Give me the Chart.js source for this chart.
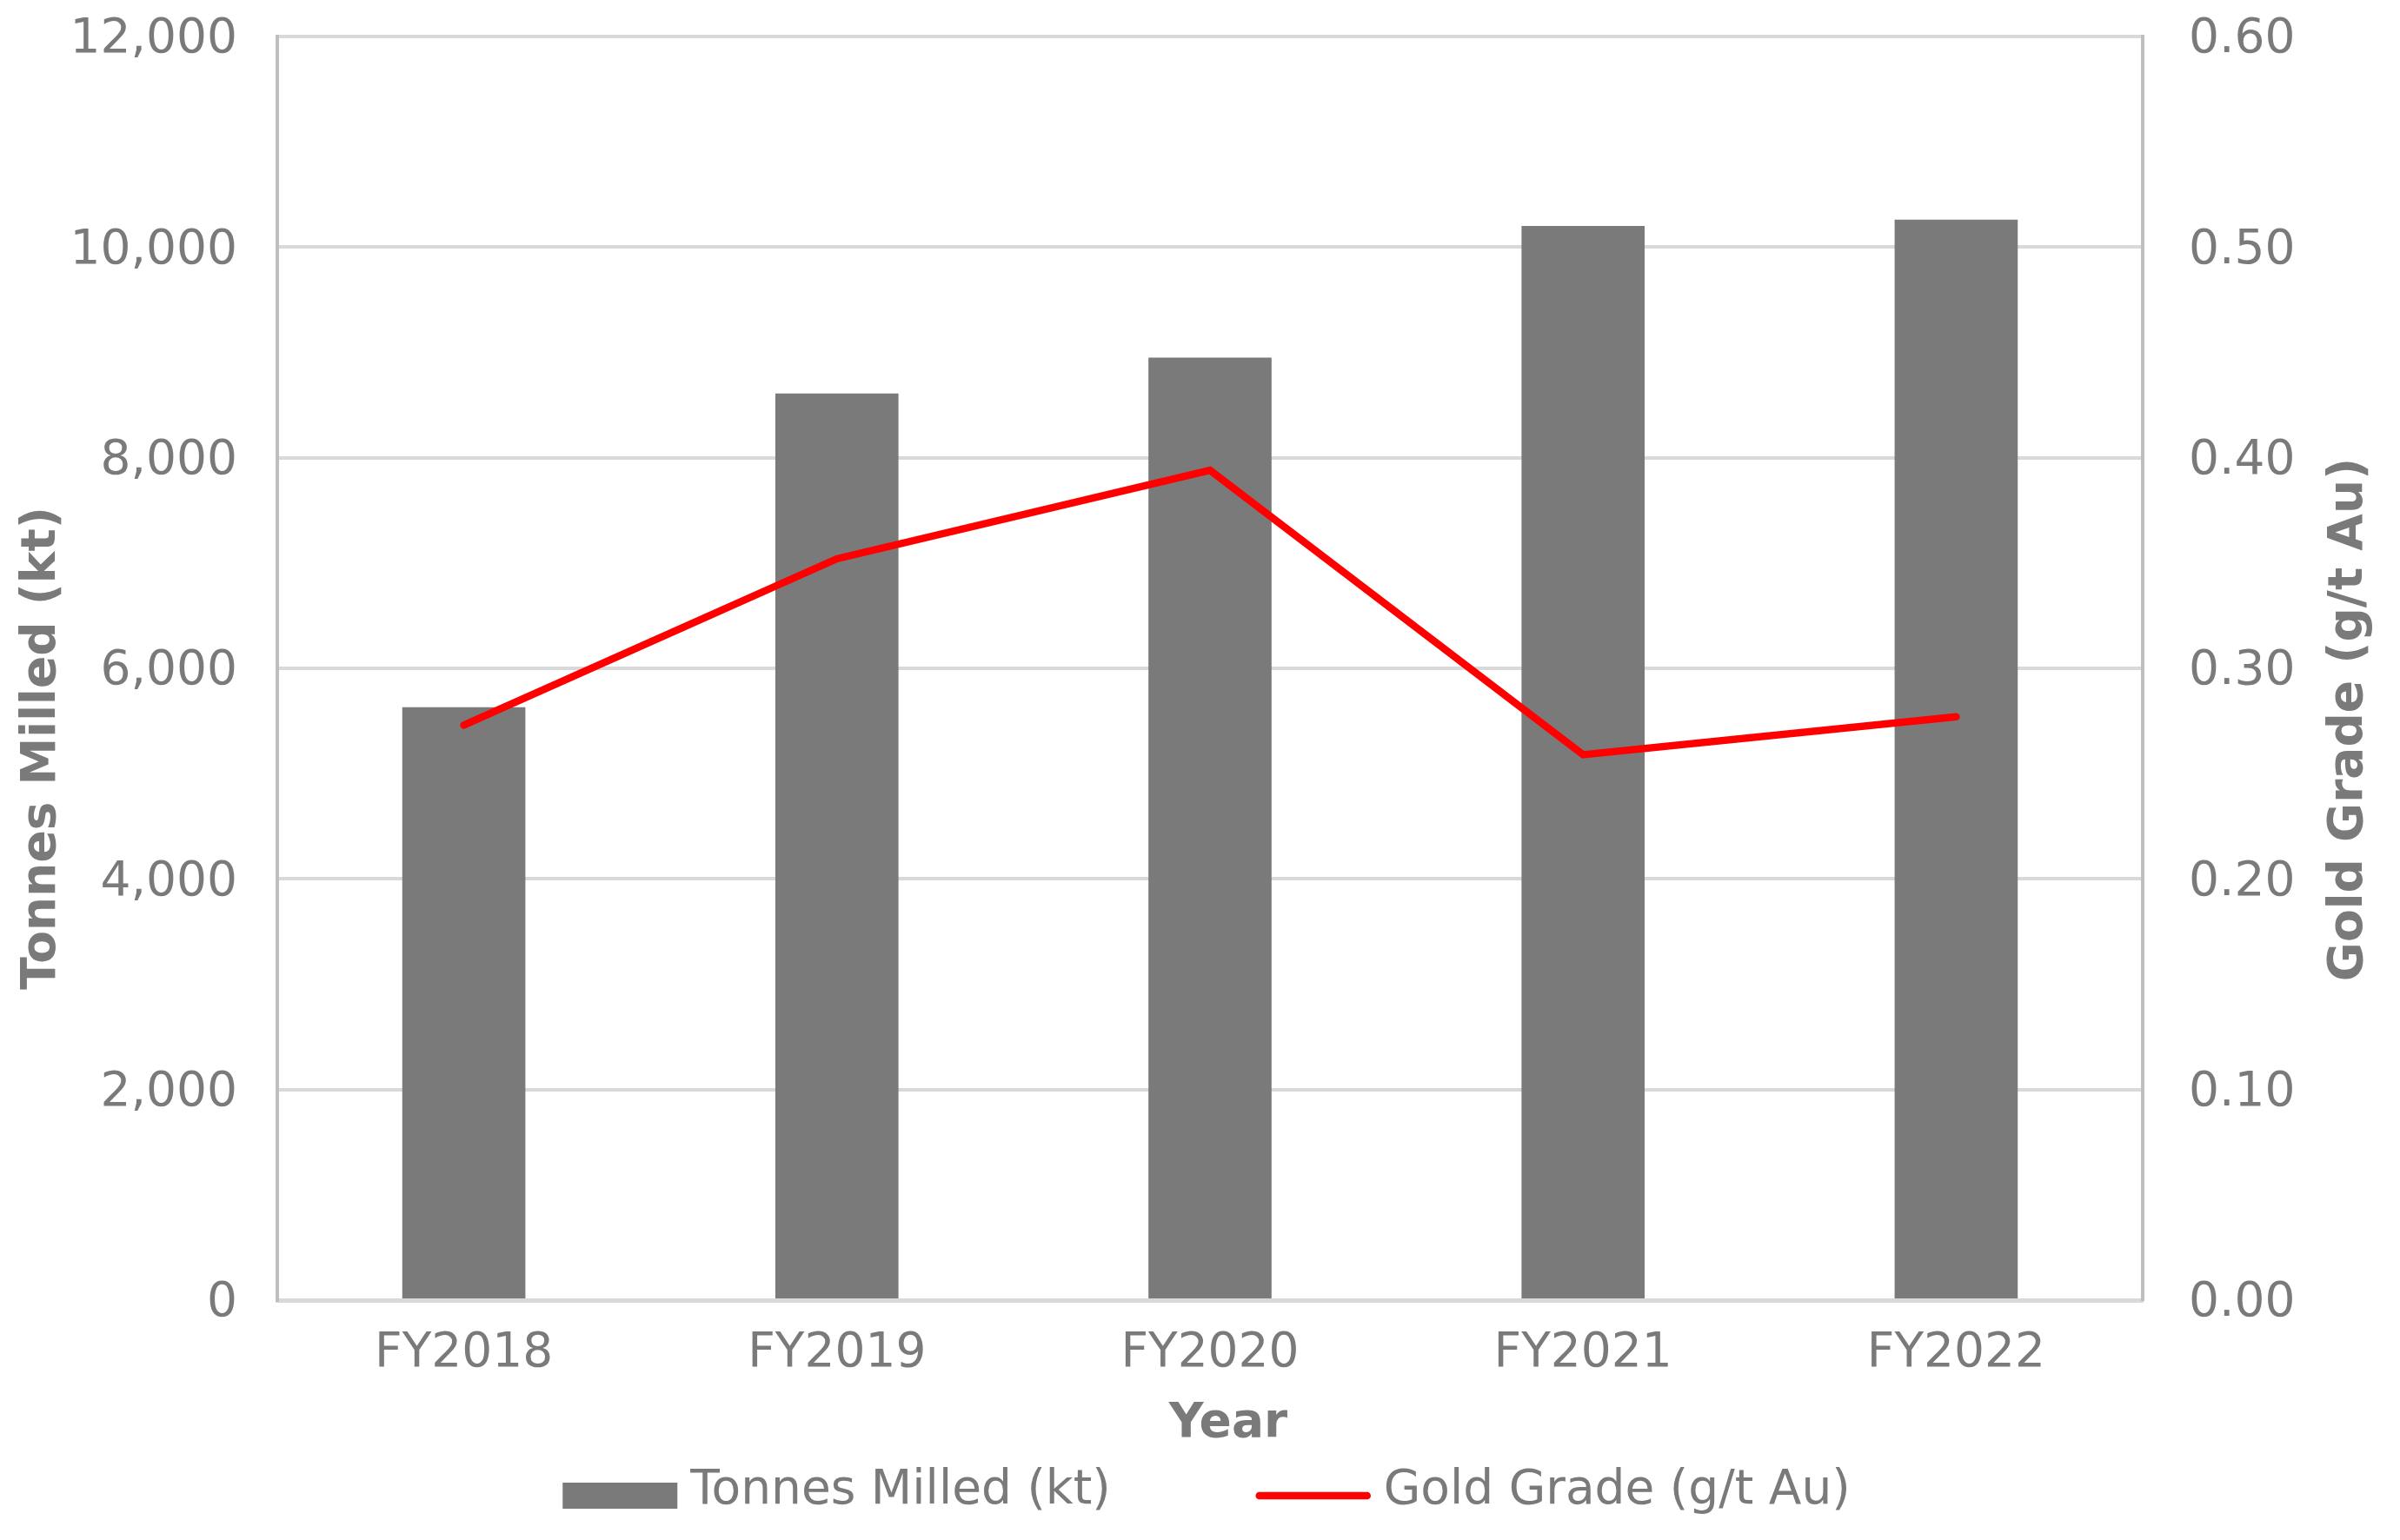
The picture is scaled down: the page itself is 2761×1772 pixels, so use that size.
<!DOCTYPE html>
<html>
<head>
<meta charset="utf-8">
<script src="https://cdn.jsdelivr.net/npm/chart.js@4.4.1/dist/chart.umd.min.js"></script>
<style>
  html, body { margin: 0; padding: 0; background: #fff; }
  #wrap { width: 2761px; height: 1772px; }
</style>
</head>
<body>
<div id="wrap"><canvas id="millChart"></canvas></div>
<script>
const years = ['FY2018', 'FY2019', 'FY2020', 'FY2021', 'FY2022'];
const tonnesMilled = [5630, 8610, 8950, 10200, 10260];
const goldGrade = [0.273, 0.352, 0.394, 0.259, 0.277];
const tonnesTicks = [0, 2000, 4000, 6000, 8000, 10000, 12000];
const gradeTicks = [0, 0.1, 0.2, 0.3, 0.4, 0.5, 0.6];

const GREY = '#7a7a7a';
const FONT = 'DejaVu Sans';

Chart.defaults.font.family = FONT;
Chart.defaults.font.size = 55;
Chart.defaults.color = GREY;

// axis titles (Excel style, both read bottom-to-top) and the bottom legend
const titlesAndLegend = {
  id: 'titlesAndLegend',
  afterDraw(chart) {
    const { ctx } = chart;
    ctx.save();
    ctx.fillStyle = GREY;
    ctx.textBaseline = 'middle';
    ctx.textAlign = 'center';
    ctx.font = `bold 55px "${FONT}"`;

    ctx.save();
    ctx.translate(49, 861);
    ctx.rotate(-Math.PI / 2);
    ctx.fillText('Tonnes Milled (kt)', 0, 0);
    ctx.restore();

    ctx.save();
    ctx.translate(2703, 828);
    ctx.rotate(-Math.PI / 2);
    ctx.fillText('Gold Grade (g/t Au)', 0, 0);
    ctx.restore();

    ctx.fillText('Year', 1413, 1639);

    // legend
    ctx.font = `55px "${FONT}"`;
    ctx.textAlign = 'left';
    const sw = 132, gap = 15, itemGap = 167;
    const items = chart.data.datasets.map(ds => ({ ds, w: ctx.measureText(ds.label).width }));
    const total = items.reduce((s, it) => s + sw + gap + it.w, 0) + itemGap * (items.length - 1);
    let x = 1388 - total / 2;
    const yBox = 1721, yText = 1716;
    items.forEach(({ ds, w }) => {
      if (ds.type === 'line') {
        ctx.strokeStyle = ds.borderColor;
        ctx.lineWidth = ds.borderWidth;
        ctx.lineCap = 'round';
        ctx.beginPath();
        ctx.moveTo(x + 4, yBox);
        ctx.lineTo(x + sw - 4, yBox);
        ctx.stroke();
      } else {
        ctx.fillStyle = ds.backgroundColor;
        ctx.fillRect(x, yBox - 15, sw, 30);
      }
      ctx.fillStyle = GREY;
      ctx.fillText(ds.label, x + sw + gap, yText);
      x += sw + gap + w + itemGap;
    });
    ctx.restore();
  }
};

new Chart(document.getElementById('millChart'), {
  type: 'bar',
  data: {
    labels: years,
    datasets: [
      {
        label: 'Tonnes Milled (kt)',
        data: tonnesMilled,
        yAxisID: 'y',
        backgroundColor: GREY,
        borderWidth: 0,
        barPercentage: 0.33,
        categoryPercentage: 1,
        order: 1
      },
      {
        type: 'line',
        label: 'Gold Grade (g/t Au)',
        data: goldGrade,
        yAxisID: 'y1',
        borderColor: '#ff0000',
        backgroundColor: '#ff0000',
        borderWidth: 8.5,
        borderCapStyle: 'round',
        pointRadius: 0,
        tension: 0,
        order: 0
      }
    ]
  },
  options: {
    responsive: true,
    maintainAspectRatio: false,
    animation: false,
    layout: { padding: 0 },
    plugins: {
      legend: { display: false },
      tooltip: { enabled: false }
    },
    scales: {
      x: {
        grid: { display: false, drawTicks: false },
        border: { display: true, color: '#d9d9d9', width: 5 },
        ticks: { padding: 29, color: GREY },
        afterFit: s => { s.height = 276; }
      },
      y: {
        position: 'left',
        min: tonnesTicks[0],
        max: tonnesTicks[tonnesTicks.length - 1],
        afterBuildTicks: s => { s.ticks = tonnesTicks.map(v => ({ value: v })); },
        grid: { color: '#d9d9d9', lineWidth: 4, drawTicks: false },
        border: { color: '#bfbfbf', width: 4 },
        ticks: {
          padding: 46,
          labelOffset: 4,
          color: GREY,
          callback: v => v.toLocaleString('en-US')
        },
        afterFit: s => { s.width = 319; s.paddingTop = 42; s.paddingBottom = 0; }
      },
      y1: {
        position: 'right',
        min: gradeTicks[0],
        max: gradeTicks[gradeTicks.length - 1],
        afterBuildTicks: s => { s.ticks = gradeTicks.map(v => ({ value: v })); },
        grid: { display: false, drawTicks: false },
        border: { color: '#bfbfbf', width: 4 },
        ticks: {
          padding: 53,
          labelOffset: 4,
          color: GREY,
          callback: v => Number(v).toFixed(2)
        },
        afterFit: s => { s.width = 296; s.paddingTop = 42; s.paddingBottom = 0; }
      }
    }
  },
  plugins: [titlesAndLegend]
});
</script>
</body>
</html>
